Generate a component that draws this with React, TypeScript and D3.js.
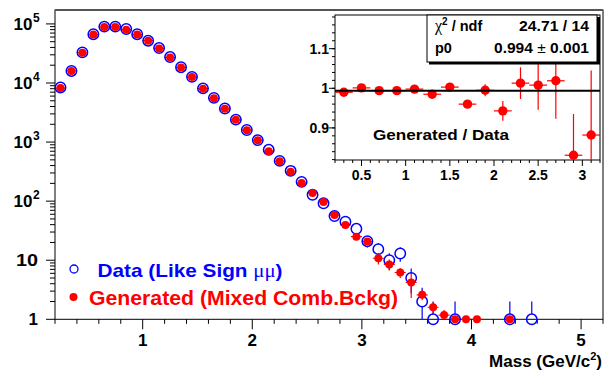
import React from "react";
import * as d3 from "d3";

// ---------- data ----------
const dataMass = [0.25, 0.35, 0.45, 0.55, 0.65, 0.75, 0.85, 0.95, 1.05, 1.15, 1.25, 1.35, 1.45, 1.55, 1.65, 1.75, 1.85, 1.95, 2.05, 2.15, 2.25, 2.35, 2.45, 2.55, 2.65, 2.75, 2.85, 2.95, 3.05, 3.15, 3.25, 3.35, 3.45, 3.55, 3.65, 3.85, 4.35, 4.55];
const dataCounts = [8400, 16000, 33000, 67000, 90000, 90000, 82000, 67000, 52000, 39000, 27500, 18500, 12700, 8100, 5600, 3700, 2400, 1600, 1080, 740, 480, 326, 212, 128, 92, 56, 45, 34, 21, 15.4, 10, 13, 5, 2, 1, 1, 1, 1];

const genMass = [0.25, 0.35, 0.45, 0.55, 0.65, 0.75, 0.85, 0.95, 1.05, 1.15, 1.25, 1.35, 1.45, 1.55, 1.65, 1.75, 1.85, 1.95, 2.05, 2.15, 2.25, 2.35, 2.45, 2.55, 2.65, 2.75, 2.85, 2.95, 3.05, 3.15, 3.25, 3.35, 3.45, 3.55, 3.65, 3.75, 3.85, 3.95, 4.05, 4.35];
const genCounts = [8200, 16000, 32500, 66000, 89000, 89000, 80000, 66000, 52000, 38500, 27000, 18300, 12600, 8000, 5500, 3650, 2380, 1590, 1070, 700, 475, 314, 202, 137, 97, 58, 39.6, 25, 20.7, 10.8, 8.5, 6.2, 4.2, 2.6, 1.6, 1.18, 1, 1, 1, 1];
const genErrors = [20, 30, 40, 60, 70, 70, 65, 60, 50, 45, 35, 30, 25, 20, 16, 13, 10, 8, 7, 5, 4, 3.5, 3, 2.5, 2, 1.6, 1.4, 1.2, 2, 2.3, 1.8, 1.2, 1.9, 0.5, 0.35, 0.25, 0.15, 0.1, 0.1, 0.1];

const ratioMass = [0.3, 0.5, 0.7, 0.9, 1.1, 1.3, 1.5, 1.7, 1.9, 2.1, 2.3, 2.5, 2.7, 2.9, 3.1];
const ratioValues = [0.990, 1.001, 0.994, 0.994, 0.998, 0.985, 1.003, 0.960, 0.995, 0.943, 1.013, 1.008, 1.019, 0.831, 0.882];
const ratioErrors = [0.003, 0.003, 0.003, 0.003, 0.004, 0.004, 0.005, 0.006, 0.015, 0.025, 0.040, 0.062, 0.096, 0.104, 0.163];
const fitValue = 0.994;

const xTicksMain = [1, 2, 3, 4, 5];
const yTicksMain = [1, 10, 100, 1000, 10000, 100000];
const xTicksInset = [0.5, 1, 1.5, 2, 2.5, 3];
const yTicksInset = [0.9, 1.0, 1.1];

const FONT = "'Liberation Sans', Arial, Helvetica, sans-serif";
const SERIF = "'Liberation Serif', 'DejaVu Serif', serif";
const BLUE = "#0000ff";
const RED = "#ff0000";

export default function App() {
  // main frame
  const X0 = 55, X1 = 603, Y0 = 10, Y1 = 319.3;
  const x = d3.scaleLinear().domain([0.2, 5.2]).range([X0, X1]);
  const y = d3.scaleLog().domain([1, 1.72e5]).range([Y1, Y0]);

  // inset frame
  const IX0 = 335, IX1 = 600, IY0 = 15, IY1 = 160;
  const ix = d3.scaleLinear().domain([0.2, 3.2]).range([IX0, IX1]);
  const iy = d3.scaleLinear().domain([0.819, 1.185]).range([IY1, IY0]);

  const minorX = d3.range(0.2, 5.21, 0.2).filter((v) => Math.abs(v - Math.round(v)) > 1e-6);
  const minorY: number[] = [];
  for (let e = 0; e <= 5; e++) for (let m = 2; m <= 9; m++) { const v = m * Math.pow(10, e); if (v <= 1.72e5) minorY.push(v); }
  const minorIX = d3.range(0.2, 3.21, 0.1).filter((v) => Math.abs(v * 2 - Math.round(v * 2)) > 1e-6);
  const minorIY = d3.range(0.82, 1.185, 0.02);

  const bw = 0.05; // half bin width main
  const rbw = 0.1; // half bin width ratio
  const R_BLUE = 5.2;
  const R_RED = 4;

  const clipY = (v: number) => Math.max(Y0, Math.min(Y1, v));

  return (
    <svg width={608} height={372} style={{ display: "block", position: "absolute", left: 0, top: 0, background: "#fff" }} fontFamily={FONT}>
      <defs>
        <clipPath id="mainclip"><rect x={X0} y={Y0} width={X1 - X0} height={Y1 - Y0} /></clipPath>
        <clipPath id="insetclip"><rect x={IX0} y={IY0} width={IX1 - IX0} height={IY1 - IY0} /></clipPath>
      </defs>
      <rect x={0} y={0} width={608} height={372} fill="#fff" />

      {/* main frame */}
      <rect x={X0} y={Y0} width={X1 - X0} height={Y1 - Y0} fill="none" stroke="#000" strokeWidth={1} />
      <line x1={X0} x2={X1} y1={Y0} y2={Y0} stroke="#555" strokeWidth={2} />

      {/* main x ticks */}
      {minorX.map((v, i) => <line key={"mx" + i} x1={x(v)} x2={x(v)} y1={Y1} y2={Y1 + 4.5} stroke="#000" />)}
      {xTicksMain.map((v) => (
        <g key={"Mx" + v}>
          <line x1={x(v)} x2={x(v)} y1={Y1} y2={Y1 + 10} stroke="#000" />
          <text x={x(v)} y={346} textAnchor="middle" fontSize={17} fontWeight="bold">{v}</text>
        </g>
      ))}
      <text x={602} y={367} textAnchor="end" fontSize={17} fontWeight="bold">
        Mass (GeV/c<tspan dy={-7} fontSize={11}>2</tspan><tspan dy={7}>)</tspan>
      </text>

      {/* main y ticks */}
      {minorY.map((v, i) => <line key={"my" + i} x1={X0 - 5} x2={X0} y1={y(v)} y2={y(v)} stroke="#000" />)}
      {yTicksMain.map((v) => {
        const e = Math.round(Math.log10(v));
        const yy = y(v);
        return (
          <g key={"My" + v}>
            <line x1={X0 - 9} x2={X0} y1={yy} y2={yy} stroke="#000" />
            {e === 0 && <text x={38} y={yy + 6} textAnchor="end" fontSize={17} fontWeight="bold">1</text>}
            {e === 1 && <text x={38} y={yy + 6} textAnchor="end" fontSize={17} fontWeight="bold" textLength={22} lengthAdjust="spacingAndGlyphs">10</text>}
            {e > 1 && (
              <g>
                <text x={32.5} y={yy + 6} textAnchor="end" fontSize={17} fontWeight="bold">10</text>
                <text x={33} y={yy - 2} fontSize={12} fontWeight="bold">{e}</text>
              </g>
            )}
          </g>
        );
      })}

      {/* data error bars */}
      <g clipPath="url(#mainclip)">
        {dataMass.map((m, i) => {
          const v = dataCounts[i];
          const err = Math.sqrt(v);
          const cy = y(v);
          const top = y(v + err);
          const bot = v - err > 0 ? y(v - err) : Y1 + 20;
          return (
            <g key={"de" + i} stroke={BLUE} strokeWidth={1.2}>
              {top < cy - R_BLUE && <line x1={x(m)} x2={x(m)} y1={top} y2={cy - R_BLUE} />}
              {bot > cy + R_BLUE && <line x1={x(m)} x2={x(m)} y1={cy + R_BLUE} y2={bot} />}
            </g>
          );
        })}
        {genMass.map((m, i) => {
          const v = genCounts[i];
          const e = genErrors[i];
          const cy = y(v);
          return (
            <g key={"ge" + i} stroke={RED} strokeWidth={1.2}>
              <line x1={x(m - bw)} x2={x(m + bw)} y1={cy} y2={cy} />
              <line x1={x(m)} x2={x(m)} y1={y(v + e)} y2={v - e > 0 ? y(v - e) : Y1 + 20} />
            </g>
          );
        })}
      </g>

      {/* markers */}
      {dataMass.map((m, i) => (
        <circle key={"dc" + i} cx={x(m)} cy={y(dataCounts[i])} r={R_BLUE} fill="none" stroke={BLUE} strokeWidth={1.5} />
      ))}
      {genMass.map((m, i) => (
        <circle key={"gc" + i} cx={x(m)} cy={y(genCounts[i])} r={R_RED} fill={RED} />
      ))}

      {/* legend */}
      <circle cx={74} cy={269} r={4} fill="none" stroke={BLUE} strokeWidth={1.3} />
      <text x={97.5} y={276.5} fontSize={19} fontWeight="bold" fill={BLUE} textLength={185} lengthAdjust="spacingAndGlyphs">
        Data (Like Sign <tspan fontFamily={SERIF} fontWeight="normal">μμ</tspan>)
      </text>
      <circle cx={73.5} cy={297} r={4} fill={RED} />
      <text x={89} y={305} fontSize={19.5} fontWeight="bold" fill={RED} textLength={309} lengthAdjust="spacingAndGlyphs">
        Generated (Mixed Comb.Bckg)
      </text>

      {/* ---------- inset ---------- */}
      <rect x={IX0} y={IY0} width={IX1 - IX0} height={IY1 - IY0} fill="#fff" stroke="#000" strokeWidth={1} />
      {minorIX.map((v, i) => <line key={"imx" + i} x1={ix(v)} x2={ix(v)} y1={IY1} y2={IY1 + 3} stroke="#000" />)}
      {xTicksInset.map((v) => (
        <g key={"iMx" + v}>
          <line x1={ix(v)} x2={ix(v)} y1={IY1} y2={IY1 + 6} stroke="#000" />
          <text x={ix(v)} y={180} textAnchor="middle" fontSize={14} fontWeight="bold">{v}</text>
        </g>
      ))}
      {minorIY.map((v, i) => <line key={"imy" + i} x1={IX0 - 3} x2={IX0} y1={iy(v)} y2={iy(v)} stroke="#000" />)}
      {yTicksInset.map((v) => (
        <g key={"iMy" + v}>
          <line x1={IX0 - 6} x2={IX0} y1={iy(v)} y2={iy(v)} stroke="#000" />
          <text x={329} y={iy(v) + 5} textAnchor="end" fontSize={14} fontWeight="bold">{v === 1 ? "1" : v.toFixed(1)}</text>
        </g>
      ))}

      <g clipPath="url(#insetclip)">
        {ratioMass.map((m, i) => {
          const v = ratioValues[i];
          const e = ratioErrors[i];
          return (
            <g key={"r" + i}>
              <line x1={ix(m - rbw)} x2={ix(m + rbw)} y1={iy(v)} y2={iy(v)} stroke={RED} strokeWidth={1.2} />
              <line x1={ix(m)} x2={ix(m)} y1={iy(v + e)} y2={iy(v - e)} stroke={RED} strokeWidth={1.2} />
              <circle cx={ix(m)} cy={iy(v)} r={4.7} fill={RED} />
            </g>
          );
        })}
        <line x1={IX0} x2={IX1} y1={iy(fitValue)} y2={iy(fitValue)} stroke="#000" strokeWidth={2} />
      </g>

      <text x={373} y={140} fontSize={15} fontWeight="bold" textLength={136} lengthAdjust="spacingAndGlyphs">Generated / Data</text>

      {/* stats box */}
      <rect x={429} y={17} width={171} height={47.5} fill="#000" />
      <rect x={427} y={15} width={170} height={47} fill="#fff" stroke="#000" strokeWidth={1} />
      <text x={435} y={31} fontSize={14.5} fontWeight="bold">
        <tspan fontFamily={SERIF} fontWeight="normal" fontSize={16}>χ</tspan>
        <tspan dy={-6} fontSize={10}>2</tspan>
        <tspan dy={6}> / ndf</tspan>
      </text>
      <text x={589} y={31} textAnchor="end" fontSize={14.5} fontWeight="bold" textLength={70} lengthAdjust="spacingAndGlyphs">24.71 / 14</text>
      <text x={435} y={53} fontSize={14.5} fontWeight="bold">p0</text>
      <text x={589} y={53} textAnchor="end" fontSize={14.5} fontWeight="bold" textLength={95} lengthAdjust="spacingAndGlyphs">
        0.994 <tspan fontWeight="normal">±</tspan> 0.001
      </text>
    </svg>
  );
}
